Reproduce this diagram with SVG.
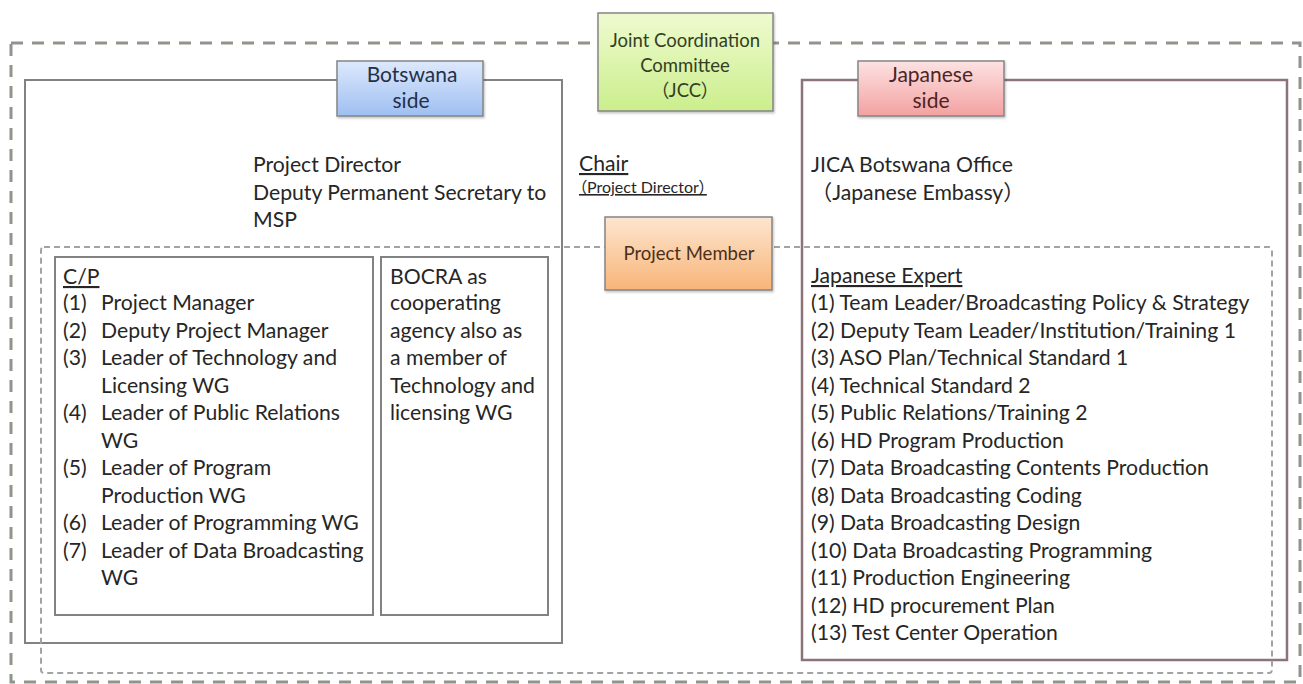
<svg xmlns="http://www.w3.org/2000/svg" width="1303" height="684" viewBox="0 0 1303 684">
  <defs>
    <linearGradient id="gBlue" x1="0" y1="0" x2="0" y2="1">
      <stop offset="0" stop-color="#dde9fc"/>
      <stop offset="1" stop-color="#9ebff2"/>
    </linearGradient>
    <linearGradient id="gPink" x1="0" y1="0" x2="0" y2="1">
      <stop offset="0" stop-color="#fde2e2"/>
      <stop offset="1" stop-color="#f4a1a1"/>
    </linearGradient>
    <linearGradient id="gGreen" x1="0" y1="0" x2="0" y2="1">
      <stop offset="0" stop-color="#effbd0"/>
      <stop offset="1" stop-color="#cbee8c"/>
    </linearGradient>
    <linearGradient id="gOrange" x1="0" y1="0" x2="0" y2="1">
      <stop offset="0" stop-color="#fde6cf"/>
      <stop offset="1" stop-color="#f8b478"/>
    </linearGradient>
    <filter id="shadow" x="-10%" y="-10%" width="130%" height="130%">
      <feDropShadow dx="1" dy="1.5" stdDeviation="1" flood-color="#000" flood-opacity="0.25"/>
    </filter>
  </defs>
  <style>
    text { font-family: Lato, "Noto Sans CJK JP", sans-serif; fill: #262626; }
    .body { font-size: 21.2px; }
    .note { font-size: 16px; font-feature-settings: "palt"; }
    .label { font-size: 21px; text-anchor: middle; }
    .box { font-size: 18.5px; text-anchor: middle; font-feature-settings: "palt"; }
    .u { text-decoration: underline; }
    .outer { fill: none; stroke: #8f948c; stroke-width: 3; stroke-dasharray: 12 9; }
    .inner { fill: none; stroke: #a3a3a3; stroke-width: 2; stroke-dasharray: 6 4; }
    .frame { fill: none; stroke: #828282; stroke-width: 2; }
    .frameJp { fill: none; stroke: #8c7379; stroke-width: 2.5; }
    .tag { stroke: #858585; stroke-width: 1.5; filter: url(#shadow); }
  </style>
  <rect width="1303" height="684" fill="#ffffff"/>

  <!-- outer boundary of the whole project organisation -->
  <rect id="project-boundary" class="outer" x="11" y="43" width="1289" height="639"/>

  <!-- Botswana side -->
  <g id="botswana-side">
    <rect class="frame" x="25" y="80" width="537" height="563"/>
    <text class="body" x="253" y="172">Project Director</text>
    <text class="body" x="253" y="199.5">Deputy Permanent Secretary to</text>
    <text class="body" x="253" y="227">MSP</text>
  </g>

  <!-- Japanese side -->
  <g id="japanese-side">
    <rect class="frameJp" x="802" y="80" width="485" height="580"/>
    <text class="body" x="811" y="172">JICA Botswana Office</text>
    <text class="body" x="811" y="199.5">（Japanese Embassy）</text>
  </g>

  <!-- project member boundary (dashed) -->
  <rect id="project-member-boundary" class="inner" x="41" y="247" width="1231" height="426" rx="3"/>

  <!-- counterpart list -->
  <g id="counterparts">
    <rect class="frame" x="55" y="257" width="318" height="358"/>
    <text class="body u" x="63" y="284">C/P</text>
    <text class="body" x="63" y="310">(1)</text><text class="body" x="101" y="310">Project Manager</text>
    <text class="body" x="63" y="337.5">(2)</text><text class="body" x="101" y="337.5">Deputy Project Manager</text>
    <text class="body" x="63" y="365">(3)</text><text class="body" x="101" y="365">Leader of Technology and</text>
    <text class="body" x="101" y="392.5">Licensing WG</text>
    <text class="body" x="63" y="420">(4)</text><text class="body" x="101" y="420">Leader of Public Relations</text>
    <text class="body" x="101" y="447.5">WG</text>
    <text class="body" x="63" y="475">(5)</text><text class="body" x="101" y="475">Leader of Program</text>
    <text class="body" x="101" y="502.5">Production WG</text>
    <text class="body" x="63" y="530">(6)</text><text class="body" x="101" y="530">Leader of Programming WG</text>
    <text class="body" x="63" y="557.5">(7)</text><text class="body" x="101" y="557.5">Leader of Data Broadcasting</text>
    <text class="body" x="101" y="585">WG</text>
  </g>

  <!-- BOCRA -->
  <g id="bocra">
    <rect class="frame" x="381" y="257" width="167" height="358"/>
    <text class="body" x="390" y="284">BOCRA as</text>
    <text class="body" x="390" y="310">cooperating</text>
    <text class="body" x="390" y="337.5">agency also as</text>
    <text class="body" x="390" y="365">a member of</text>
    <text class="body" x="390" y="392.5">Technology and</text>
    <text class="body" x="390" y="420">licensing WG</text>
  </g>

  <!-- Japanese expert list -->
  <g id="japanese-experts">
    <text class="body u" x="811" y="283">Japanese Expert</text>
    <text class="body" x="811" y="310">(1) Team Leader/Broadcasting Policy &amp; Strategy</text>
    <text class="body" x="811" y="337.5">(2) Deputy Team Leader/Institution/Training 1</text>
    <text class="body" x="811" y="365">(3) ASO Plan/Technical Standard 1</text>
    <text class="body" x="811" y="392.5">(4) Technical Standard 2</text>
    <text class="body" x="811" y="420">(5) Public Relations/Training 2</text>
    <text class="body" x="811" y="447.5">(6) HD Program Production</text>
    <text class="body" x="811" y="475">(7) Data Broadcasting Contents Production</text>
    <text class="body" x="811" y="502.5">(8) Data Broadcasting Coding</text>
    <text class="body" x="811" y="530">(9) Data Broadcasting Design</text>
    <text class="body" x="811" y="557.5">(10) Data Broadcasting Programming</text>
    <text class="body" x="811" y="585">(11) Production Engineering</text>
    <text class="body" x="811" y="612.5">(12) HD procurement Plan</text>
    <text class="body" x="811" y="640">(13) Test Center Operation</text>
  </g>

  <!-- chair note -->
  <g id="chair">
    <text class="body u" x="579" y="171">Chair</text>
    <text class="note u" x="579" y="193">（Project Director）</text>
  </g>

  <!-- side labels -->
  <g id="botswana-label">
    <rect class="tag" x="337" y="61" width="146" height="55" fill="url(#gBlue)"/>
    <text class="label" x="412" y="82" style="fill:#23304a">Botswana</text>
    <text class="label" x="411" y="108" style="fill:#23304a">side</text>
  </g>
  <g id="japanese-label">
    <rect class="tag" x="858" y="61" width="146" height="55" fill="url(#gPink)"/>
    <text class="label" x="931" y="82" style="fill:#4a2626">Japanese</text>
    <text class="label" x="931" y="108" style="fill:#4a2626">side</text>
  </g>

  <!-- Joint Coordination Committee -->
  <g id="jcc">
    <rect class="tag" x="598" y="13" width="175" height="98" fill="url(#gGreen)"/>
    <text class="box" x="685" y="47" style="fill:#33401f">Joint Coordination</text>
    <text class="box" x="685" y="72" style="fill:#33401f">Committee</text>
    <text class="box" x="685" y="97" style="fill:#33401f">（JCC）</text>
  </g>

  <!-- Project Member -->
  <g id="project-member">
    <rect class="tag" x="605" y="217" width="167" height="73" fill="url(#gOrange)"/>
    <text class="box" x="689" y="260" style="fill:#4a2f1a">Project Member</text>
  </g>
</svg>
